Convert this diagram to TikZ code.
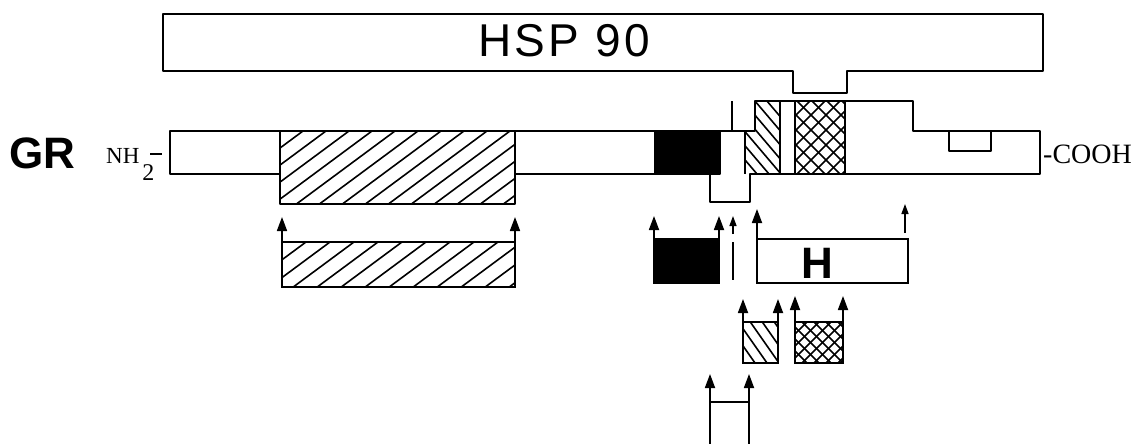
\documentclass[tikz,border=0pt]{standalone}
\usepackage{fontspec}
\setmainfont{Liberation Serif}
\newfontfamily\sansf{Liberation Sans}
\usetikzlibrary{arrows.meta}
\tikzset{
  outl/.style={line width=2.2pt, line join=round},
  hatchline/.style={line width=1.6pt},
  box/.style={draw, line width=2.2pt, outer sep=0pt, inner sep=0pt, anchor=north west},
  arr/.style={line width=1.7pt, -{Triangle[length=14pt,width=10pt]}},
  sarr/.style={line width=1.4pt, -{Triangle[length=10pt,width=7pt]}},
}
% "/" lines: x0 ytop x1 ybot spacing k(=dx/dy)
\newcommand\fhatch[6]{%
  \pgfmathsetmacro\hH{#4-#2}%
  \pgfmathsetmacro\hS{#1-#6*\hH}%
  \pgfmathtruncatemacro\hN{(#3-\hS)/#5+1}%
  \foreach \i in {0,...,\hN}{\draw[hatchline] ({\hS+\i*#5},#4) -- ++({#6*\hH},{-\hH});}%
}
% "\" lines
\newcommand\bhatch[6]{%
  \pgfmathsetmacro\hH{#4-#2}%
  \pgfmathsetmacro\hS{#1-#6*\hH}%
  \pgfmathtruncatemacro\hN{(#3-\hS)/#5+1}%
  \foreach \i in {0,...,\hN}{\draw[hatchline] ({\hS+\i*#5},#2) -- ++({#6*\hH},{\hH});}%
}
\begin{document}
\begin{tikzpicture}[x=1pt,y=-1pt]
\useasboundingbox (0,0) rectangle (1133,444);

% HSP 90
\draw[outl] (163,14) -- (1043,14) -- (1043,71) -- (847,71) -- (847,93) -- (793,93) -- (793,71) -- (163,71) -- cycle;
\node[font=\sansf\fontsize{46}{46}\selectfont, anchor=base, inner sep=0pt] (hsp) at (564,57) {\addfontfeature{LetterSpace=7}HSP 90};

% GR labels
\node[font=\sansf\bfseries\fontsize{44}{44}\selectfont, anchor=base west, inner sep=0pt] (gr) at (9,168) {GR};
\node[font=\fontsize{23}{23}\selectfont, anchor=base west, inner sep=0pt] (nh) at (106,163) {NH\kern3pt\raisebox{-17pt}{\fontsize{24}{24}\selectfont 2}\kern-4pt\rule[8pt]{12pt}{1.8pt}};
\node[font=\fontsize{28}{28}\selectfont, anchor=base west, inner sep=0pt] (cooh) at (1043,163) {-COOH};

% GR hatch fills
\begin{scope}
  \clip (280,131) rectangle (515,204);
  \fhatch{280}{131}{515}{204}{23}{1.35}
\end{scope}
\begin{scope}
  \clip (745,131) -- (755,131) -- (755,101) -- (780,101) -- (780,174) -- (745,174) -- cycle;
  \bhatch{745}{101}{780}{174}{12}{0.85}
\end{scope}
\begin{scope}
  \clip (795,101) rectangle (845,174);
  \bhatch{795}{101}{845}{174}{15}{1}
  \fhatch{795}{101}{845}{174}{15}{1}
\end{scope}
\fill (655,131) rectangle (720,174);

% GR outline
\draw[outl] (170,131) -- (755,131) -- (755,101) -- (913,101) -- (913,131) -- (1040,131) -- (1040,174)
  -- (750,174) -- (750,202) -- (710,202) -- (710,174) -- (515,174) -- (515,204) -- (280,204)
  -- (280,174) -- (170,174) -- cycle;
\draw[outl] (280,131) -- (280,174) (515,131) -- (515,174)
  (655,131) rectangle (720,174)
  (745,131) -- (745,174) (780,101) -- (780,174) (795,101) -- (795,174) (845,101) -- (845,174);
\draw[line width=1.8pt] (732,101) -- (732,131);
\draw[outl] (949,131) -- (949,151) -- (991,151) -- (991,131);

% lower fragments
\node[box, minimum width=233pt, minimum height=45pt] (hb) at (282,242) {};
\begin{scope}
  \clip (hb.north west) rectangle (hb.south east);
  \fhatch{282}{242}{515}{287}{24}{1.35}
\end{scope}
\node[box, minimum width=233pt, minimum height=45pt] at (282,242) {};
\draw[arr] (hb.north west) -- ++(0,-25);
\draw[arr] (hb.north east) -- ++(0,-25);

\node[box, fill=black, minimum width=65pt, minimum height=44pt] (blk) at (654,239) {};
\draw[arr] (blk.north west) -- ++(0,-23);
\draw[arr] (blk.north east) -- ++(0,-23);

\coordinate (la) at (733,242);
\coordinate (lb) at (733,280);
\draw[line width=1.6pt] (la) -- (lb);
\coordinate (sa) at (733,234);
\coordinate (sb) at (733,216);
\draw[sarr] (sa) -- (sb);

\node[box, minimum width=151pt, minimum height=44pt] (hbox) at (757,239) {};
\node[font=\sansf\bfseries\fontsize{44}{44}\selectfont, anchor=base, inner sep=0pt] (hl) at (817,278) {H};
\draw[arr] (hbox.north west) -- ++(0,-30);
\coordinate (ra) at (905,233);
\coordinate (rb) at (905,204);
\draw[sarr] (ra) -- (rb);

\node[box, minimum width=35pt, minimum height=41pt] (bs) at (743,322) {};
\begin{scope}
  \clip (bs.north west) rectangle (bs.south east);
  \bhatch{743}{322}{778}{363}{12}{0.7}
\end{scope}
\node[box, minimum width=35pt, minimum height=41pt] at (743,322) {};
\draw[arr] (bs.north west) -- ++(0,-23);
\draw[arr] (bs.north east) -- ++(0,-23);

\node[box, minimum width=48pt, minimum height=41pt] (ch) at (795,322) {};
\begin{scope}
  \clip (ch.north west) rectangle (ch.south east);
  \bhatch{795}{322}{843}{363}{12}{1}
  \fhatch{795}{322}{843}{363}{12}{1}
\end{scope}
\node[box, minimum width=48pt, minimum height=41pt] at (795,322) {};
\draw[arr] (ch.north west) -- ++(0,-26);
\draw[arr] (ch.north east) -- ++(0,-26);

\node[box, minimum width=39pt, minimum height=46pt] (wb) at (710,402) {};
\draw[arr] (wb.north west) -- ++(0,-28);
\draw[arr] (wb.north east) -- ++(0,-28);
\end{tikzpicture}
\end{document}
